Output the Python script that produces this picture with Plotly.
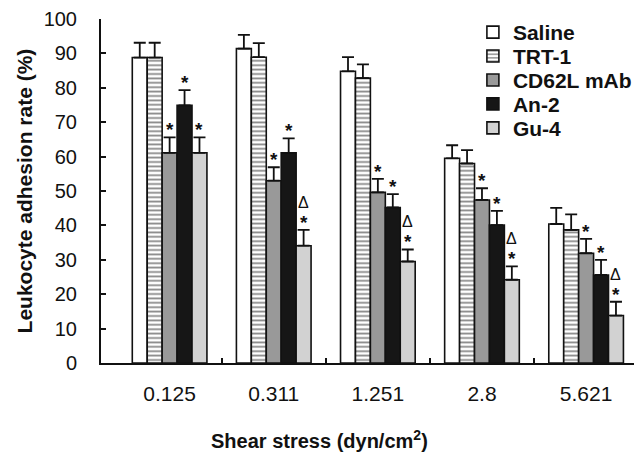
import plotly.graph_objects as go

categories = ["0.125", "0.311", "1.251", "2.8", "5.621"]
series_names = ["Saline", "TRT-1", "CD62L mAb", "An-2", "Gu-4"]

saline = [88.8, 91.4, 84.8, 59.5, 40.4]
saline_err = [4.3, 4.0, 4.1, 3.8, 4.7]
trt1 = [88.8, 88.9, 82.8, 58.0, 38.7]
trt1_err = [4.3, 4.1, 4.0, 3.9, 4.5]
cd62l = [61.1, 53.0, 49.6, 47.4, 31.9]
cd62l_err = [4.5, 3.9, 3.9, 3.4, 4.2]
an2 = [74.9, 61.1, 45.2, 40.1, 25.6]
an2_err = [4.4, 4.2, 3.9, 4.1, 4.4]
gu4 = [61.1, 34.1, 29.5, 24.2, 13.8]
gu4_err = [4.5, 4.6, 3.5, 3.9, 4.0]

# significance marks: "*" vs saline (per series), "Δ" (Gu-4 per group)
star_series = [False, False, True, True, True]
delta_gu4 = [False, True, True, True, True]

x_title = "<b>Shear stress (dyn/cm<sup>2</sup>)</b>"
y_title = "<b>Leukocyte adhesion rate (%)</b>"

values = [saline, trt1, cd62l, an2, gu4]
errors = [saline_err, trt1_err, cd62l_err, an2_err, gu4_err]
fills = ["#ffffff", "#ffffff", "#999999", "#161616", "#d2d2d2"]

FONT = "Liberation Sans, Arial, Helvetica, sans-serif"
INK = "#111111"
BARGAP = 0.283
n = len(series_names)
bw = (1 - BARGAP) / n

# layout geometry (px)
W, H = 638, 455
ML, MR, MT, MB = 101, 1, 18.5, 91.5
plot_h = H - MT - MB
plot_w = W - ML - MR

fig = go.Figure()
xs = list(range(len(categories)))
legend_ids = ["legend", "legend2", "legend3", "legend4", "legend5"]
for j, name in enumerate(series_names):
    marker = dict(color=fills[j], line=dict(color=INK, width=1.6))
    if name == "TRT-1":
        marker["pattern"] = dict(shape="-", fgcolor=INK, bgcolor="#ffffff",
                                 size=4.4, solidity=0.4)
    fig.add_trace(go.Bar(
        name=name, x=xs, y=values[j], marker=marker, legend=legend_ids[j],
        error_y=dict(type="data", array=errors[j], arrayminus=[0] * len(xs),
                     symmetric=False, color=INK, thickness=1.8, width=6),
    ))

annotations = []
for j in range(n):
    if not star_series[j]:
        continue
    for i in xs:
        xc = i + (j - (n - 1) / 2) * bw
        top = values[j][i] + errors[j][i]
        annotations.append(dict(x=xc, y=top, text="<b>*</b>", showarrow=False,
                                xref="x", yref="y", yanchor="bottom", yshift=-5,
                                font=dict(family=FONT, size=19, color=INK)))
        if j == n - 1 and delta_gu4[i]:
            annotations.append(dict(x=xc, y=top, text="Δ", showarrow=False,
                                    xref="x", yref="y", yanchor="bottom", yshift=17,
                                    font=dict(family=FONT, size=16, color=INK)))

# axis titles
annotations.append(dict(x=(321 - ML) / plot_w, y=-(440 - (H - MB)) / plot_h,
                        xref="paper", yref="paper", text=x_title, showarrow=False,
                        xanchor="center", yanchor="middle",
                        font=dict(family=FONT, size=20, color=INK)))
annotations.append(dict(x=-(ML - 24) / plot_w, y=0.5, xref="paper", yref="paper",
                        text=y_title, showarrow=False, textangle=-90,
                        xanchor="center", yanchor="middle",
                        font=dict(family=FONT, size=21, color=INK)))

legend_rows_px = [32, 56, 80, 104, 128]
legend_x = (475 - ML) / plot_w
legends = {}
for lid, py in zip(legend_ids, legend_rows_px):
    legends[lid] = dict(x=legend_x, y=(H - MB - py) / plot_h, xanchor="left", yanchor="middle",
                        font=dict(family=FONT, size=21, color=INK, weight="bold"),
                        bgcolor="rgba(0,0,0,0)", borderwidth=0)

fig.update_layout(
    width=W, height=H,
    margin=dict(l=ML, r=MR, t=MT, b=MB),
    paper_bgcolor="white", plot_bgcolor="white",
    barmode="group", bargap=BARGAP, bargroupgap=0,
    font=dict(family=FONT, size=18, color=INK),
    showlegend=True,
    annotations=annotations,
    xaxis=dict(range=[-0.659, 4.46], tickmode="array", tickvals=xs, ticktext=categories,
               ticks="", showline=True, linecolor=INK, linewidth=2, automargin=False,
               showgrid=False, zeroline=False, ticklabelstandoff=11,
               tickfont=dict(family=FONT, size=21, color=INK),
               minor=dict(tickvals=[0.5, 1.5, 2.5, 3.5], ticks="inside", ticklen=5,
                          tickwidth=1.5, tickcolor=INK)),
    yaxis=dict(range=[0, 100], tickmode="array", tickvals=list(range(0, 101, 10)),
               ticks="inside", ticklen=5, tickwidth=1.5, tickcolor=INK, automargin=False,
               showline=True, linecolor=INK, linewidth=2,
               showgrid=False, zeroline=False, ticklabelstandoff=18,
               tickfont=dict(family=FONT, size=20, color=INK)),
    **legends,
)

fig.write_html("out.html", config={"displayModeBar": False},
               post_script="document.body.style.margin='0px';")
